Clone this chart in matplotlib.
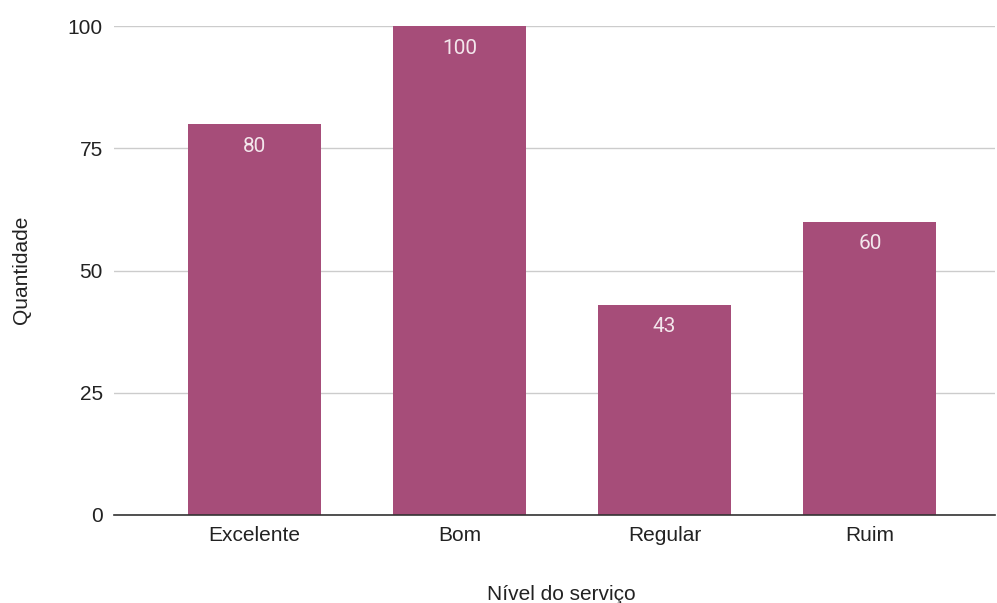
import matplotlib
matplotlib.use("Agg")
import matplotlib.pyplot as plt

categories = ["Excelente", "Bom", "Regular", "Ruim"]
values = [80, 100, 43, 60]
yticks = [0, 25, 50, 75, 100]

axis_font = ["Liberation Sans", "DejaVu Sans"]
label_font = ["Roboto", "DejaVu Sans"]
plt.rcParams["font.family"] = axis_font

fig = plt.figure(figsize=(9.97, 6.03), dpi=100)
ax = fig.add_axes([114 / 997, 1 - 515 / 603, 881 / 997, 489 / 603])

x = list(range(len(categories)))
bars = ax.bar(x, values, width=0.647, color="#a64d79", zorder=3)
for b, v in zip(bars, values):
    ax.annotate(str(v), (b.get_x() + b.get_width() / 2, v),
                xytext=(0, -16), textcoords="offset points",
                ha="center", va="center", color="#f3e6ec",
                fontsize=15, family=label_font, zorder=4)

ax.set_xlim(-0.684, 3.61)
ax.set_ylim(0, 100)
ax.set_yticks(yticks)
ax.set_xticks(x)
ax.set_xticklabels(categories)
ax.grid(axis="y", color="#cccccc", linewidth=1, zorder=0)
for s in ["top", "right", "left"]:
    ax.spines[s].set_visible(False)
ax.spines["bottom"].set_color("#333333")
ax.spines["bottom"].set_linewidth(1.2)
ax.spines["bottom"].set_zorder(5)
ax.tick_params(axis="both", length=0, labelsize=15, labelcolor="#222222")
ax.tick_params(axis="y", pad=8)
ax.tick_params(axis="x", pad=8)

fig.text(561 / 997, 1 - 594 / 603, "Nível do serviço", fontsize=15,
         color="#222222", ha="center", va="center")
fig.text(22 / 997, 1 - 270 / 603, "Quantidade", fontsize=15,
         color="#222222", ha="center", va="center", rotation=90)

fig.savefig("out.png", dpi=100)
